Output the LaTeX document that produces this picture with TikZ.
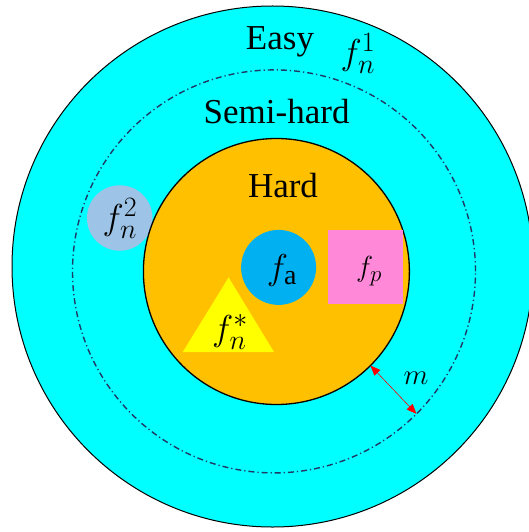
\RequirePackage{fix-cm}
\documentclass[tikz,border=0pt]{standalone}
\usepackage{fontspec}
\setmainfont{Liberation Serif}
\newfontfamily\tnr{Liberation Serif}
\DeclareMathSizes{36}{36}{28}{22}
\DeclareMathSizes{29}{29}{23}{18}
\usetikzlibrary{arrows.meta}
\definecolor{easyc}{HTML}{00FFFF}
\definecolor{hardc}{HTML}{FFC000}
\definecolor{fac}{HTML}{00B0F0}
\definecolor{fpc}{HTML}{FF89D8}
\definecolor{fnc}{HTML}{9DC3E6}
\definecolor{ddc}{HTML}{1F3864}
\definecolor{tric}{HTML}{FFFF00}
\begin{document}
\begin{tikzpicture}[x=1pt,y=-1pt,
  disc/.style={circle, inner sep=0pt, outer sep=0pt},
  lbl/.style={inner sep=0pt, font=\tnr\fontsize{35}{41}\selectfont},
  mlbl/.style={inner sep=0pt, font=\fontsize{36}{42}\selectfont},
  slbl/.style={inner sep=0pt, font=\fontsize{29}{34}\selectfont}]
\fill[white] (0,0) rectangle (528,532);
\useasboundingbox (0,0) rectangle (528,532);
\node[disc, fill=easyc, draw=black, line width=1pt, minimum size=521pt] (easy) at (272.5,266.5) {};
\node[disc, draw=ddc, line width=1.4pt, dash pattern=on 6pt off 3pt on 1.2pt off 3pt, minimum size=403pt] (semi) at (274,271.4) {};
\node[disc, fill=fnc, minimum size=65.5pt] (fn2) at (119.7,218) {};
\node[disc, fill=hardc, draw=black, line width=1.3pt, minimum size=266pt] (hard) at (276.4,271.5) {};
\node[disc, fill=fac, minimum size=75pt] (fa) at (278.6,267.4) {};
\node[rectangle, inner sep=0pt, fill=fpc, minimum width=75.5pt, minimum height=74.5pt] (fp) at (365.5,267.2) {};
\coordinate (tA) at (228.6,277.4);
\coordinate (tB) at (182.8,352);
\coordinate (tC) at (274,352);
\fill[tric] (tA) -- (tB) -- (tC) -- cycle;
\node[lbl, anchor=base] (teasy) at (280,50) {Easy};
\node[lbl, anchor=base] (tsemi) at (276.6,124) {Semi-hard};
\node[lbl, anchor=base] (thard) at (283,197) {Hard};
\node[mlbl] (tf1) at (358,53) {$f_n^1$};
\node[mlbl] (tf2) at (120,218) {$f_n^2$};
\node[mlbl] (tfa) at (282,270) {$f_{\mathrm{a}}$};
\node[slbl] (tfp) at (369,271) {$f_p$};
\node[mlbl] (tfs) at (230,332) {$f_n^*$};
\node[slbl] (tm) at (416,378) {$m$};
\draw[red, line width=0.6pt, {Triangle[length=10pt,width=8pt]}-{Triangle[length=10pt,width=8pt]}] (hard.-45) -- (semi.-45);
\end{tikzpicture}
\end{document}
